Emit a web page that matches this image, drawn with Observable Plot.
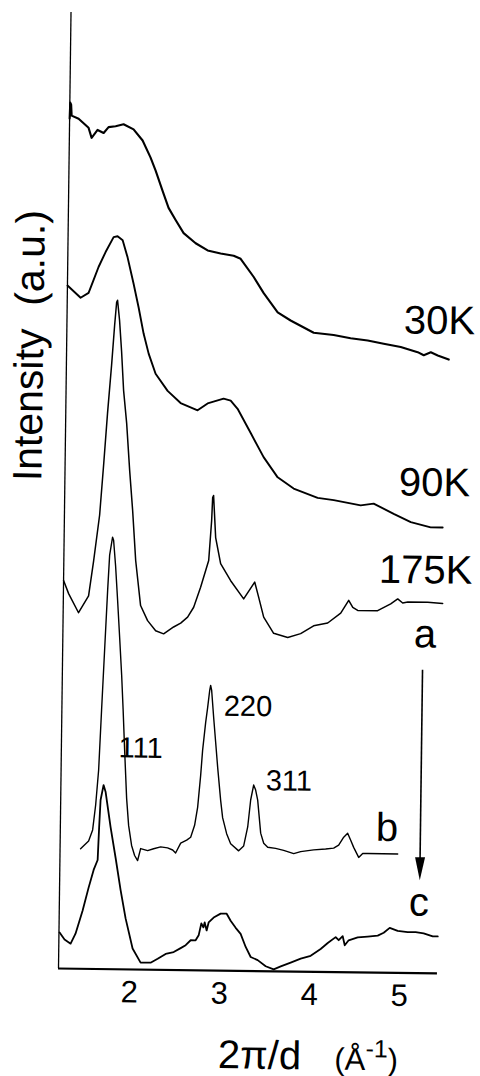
<!DOCTYPE html>
<html>
<head>
<meta charset="utf-8">
<script src="https://cdn.jsdelivr.net/npm/d3@7"></script>
<script src="https://cdn.jsdelivr.net/npm/@observablehq/plot@0.6"></script>
<style>
  html, body { margin: 0; padding: 0; background: #fff; }
  #fig {
    position: relative; width: 480px; height: 1076px; overflow: visible;
    transform: rotate(0.75deg); transform-origin: 58px 968px;
    font-family: "Liberation Sans", Arial, Helvetica, sans-serif; color: #000;
  }
  #fig svg { position: absolute; left: 0; top: 0; }
  #ylab {
    position: absolute; left: -129px; top: 326px; width: 300px; height: 40px;
    line-height: 40px; font-size: 41px; text-align: center; white-space: pre;
    transform: rotate(-90deg);
  }
  #xlab {
    position: absolute; left: 219px; top: 1032px; height: 40px;
    line-height: 40px; font-size: 40px; white-space: pre;
  }
  #xlab .u { font-size: 31px; }
  #xlab sup { font-size: 25px; vertical-align: 13px; line-height: 0; }
</style>
</head>
<body>
<div id="fig"></div>
<script>
// ---- data (x: 2π/d in Å⁻¹, y: intensity in arbitrary units, curves offset) ----
const x30K = [1.210, 1.215, 1.225, 1.232, 1.310, 1.422, 1.457, 1.522, 1.590, 1.644, 1.722, 1.810, 1.922, 2.024, 2.115, 2.173, 2.253, 2.322, 2.402, 2.493, 2.628, 2.762, 2.907, 3.052, 3.130, 3.278, 3.391, 3.549, 3.694, 3.952, 4.174, 4.363, 4.553, 4.731, 4.921, 5.110, 5.178, 5.256, 5.333, 5.456];
const y30K = [85.0, 86.6, 86.4, 85.3, 85.0, 84.1, 83.1, 83.9, 83.6, 84.2, 84.3, 84.5, 84.0, 82.9, 81.2, 79.9, 77.9, 76.2, 75.0, 73.7, 72.7, 72.0, 71.7, 71.5, 71.2, 69.4, 67.8, 65.9, 65.1, 63.9, 63.7, 63.4, 63.2, 62.9, 62.6, 62.1, 61.8, 62.1, 61.8, 61.4];

const x90K = [1.211, 1.358, 1.446, 1.500, 1.553, 1.629, 1.716, 1.760, 1.817, 1.874, 1.944, 2.004, 2.063, 2.122, 2.202, 2.338, 2.484, 2.674, 2.784, 2.961, 3.040, 3.118, 3.267, 3.414, 3.573, 3.752, 4.020, 4.199, 4.499, 4.643, 4.867, 5.058, 5.280, 5.413];
const y90K = [68.3, 67.1, 67.6, 68.9, 70.2, 71.7, 73.2, 73.3, 72.9, 71.2, 68.6, 66.2, 63.6, 61.6, 59.6, 57.9, 56.7, 56.0, 56.7, 57.2, 57.0, 56.2, 53.8, 51.4, 49.4, 48.3, 47.4, 47.2, 46.7, 46.9, 45.9, 45.1, 44.6, 44.6];

const x175K = [1.210, 1.268, 1.381, 1.490, 1.541, 1.601, 1.638, 1.674, 1.712, 1.740, 1.759, 1.769, 1.794, 1.821, 1.849, 1.888, 1.928, 1.967, 2.008, 2.069, 2.149, 2.240, 2.329, 2.439, 2.517, 2.593, 2.659, 2.733, 2.819, 2.846, 2.854, 2.864, 2.893, 2.952, 3.066, 3.213, 3.333, 3.379, 3.438, 3.551, 3.708, 3.851, 3.994, 4.150, 4.293, 4.380, 4.426, 4.481, 4.703, 4.847, 4.924, 4.980, 5.036, 5.258, 5.424];
const y175K = [38.8, 37.5, 35.6, 37.3, 40.8, 45.4, 50.4, 55.6, 60.4, 64.4, 66.7, 66.9, 64.9, 61.8, 57.9, 54.6, 49.9, 45.9, 40.9, 36.4, 34.9, 33.9, 33.6, 34.3, 34.7, 35.3, 36.3, 38.3, 41.0, 45.0, 47.3, 47.5, 43.3, 40.7, 39.0, 37.2, 38.9, 37.4, 35.4, 33.8, 33.4, 33.8, 34.6, 34.9, 35.9, 37.2, 36.5, 36.2, 36.2, 36.9, 37.4, 37.0, 37.1, 37.1, 37.0];

const xB = [1.438, 1.526, 1.569, 1.599, 1.627, 1.651, 1.676, 1.701, 1.718, 1.748, 1.760, 1.786, 1.813, 1.841, 1.869, 1.890, 1.913, 1.942, 1.968, 2.004, 2.039, 2.073, 2.105, 2.183, 2.249, 2.327, 2.404, 2.461, 2.494, 2.549, 2.615, 2.659, 2.701, 2.732, 2.761, 2.779, 2.809, 2.829, 2.849, 2.859, 2.871, 2.897, 2.923, 2.949, 2.987, 3.011, 3.058, 3.104, 3.194, 3.249, 3.291, 3.320, 3.351, 3.374, 3.398, 3.436, 3.471, 3.516, 3.604, 3.694, 3.806, 3.883, 4.027, 4.160, 4.249, 4.304, 4.359, 4.402, 4.437, 4.471, 4.528, 4.572, 4.628, 4.961];
const yB = [12.0, 12.8, 13.9, 16.4, 19.9, 25.9, 31.9, 37.9, 41.4, 43.2, 42.9, 40.3, 36.9, 33.2, 29.4, 26.0, 21.9, 17.1, 14.4, 12.4, 11.4, 10.9, 12.1, 11.9, 12.1, 12.3, 12.2, 12.0, 11.7, 12.7, 13.0, 13.3, 14.5, 16.3, 19.5, 22.0, 24.8, 26.3, 28.0, 28.5, 28.0, 25.3, 22.8, 20.3, 17.0, 15.3, 13.7, 12.7, 12.0, 12.5, 14.4, 17.1, 18.6, 18.1, 17.1, 13.8, 12.8, 12.4, 12.3, 12.1, 11.8, 12.0, 12.2, 12.3, 12.4, 12.7, 13.5, 13.9, 13.2, 12.5, 11.5, 11.9, 11.9, 11.9];

const xC = [1.217, 1.273, 1.341, 1.394, 1.469, 1.532, 1.586, 1.629, 1.641, 1.653, 1.684, 1.708, 1.768, 1.829, 1.889, 1.948, 2.030, 2.121, 2.232, 2.310, 2.398, 2.487, 2.564, 2.619, 2.674, 2.729, 2.762, 2.790, 2.813, 2.827, 2.850, 2.871, 2.926, 3.003, 3.070, 3.115, 3.172, 3.228, 3.286, 3.343, 3.421, 3.511, 3.600, 3.678, 3.788, 3.899, 4.009, 4.119, 4.197, 4.284, 4.318, 4.362, 4.386, 4.429, 4.529, 4.640, 4.751, 4.817, 4.883, 4.972, 5.083, 5.172, 5.261, 5.362, 5.418];
const yC = [3.6, 2.9, 2.5, 3.5, 5.8, 8.1, 9.9, 10.9, 14.2, 16.9, 18.4, 17.7, 14.2, 11.1, 7.9, 5.1, 2.1, 0.7, 0.7, 1.1, 1.6, 1.8, 2.2, 2.5, 3.0, 3.0, 3.5, 4.7, 4.3, 4.8, 4.0, 4.8, 5.3, 5.7, 5.7, 5.0, 4.3, 3.7, 2.4, 1.4, 1.1, 0.5, 0.2, 0.5, 0.9, 1.3, 1.6, 2.3, 2.9, 3.5, 3.2, 3.6, 2.7, 3.2, 3.5, 3.6, 3.7, 4.0, 4.5, 4.2, 4.1, 4.1, 4.0, 3.7, 3.7];

// curve labels (text, anchor position in data units)
const curveLabels = ["30K", "90K", "175K", "a", "b", "c"];
const curveLabelX = [4.952, 4.920, 4.710, 5.109, 4.715, 5.092];
const curveLabelY = [63.95, 47.75, 39.0, 32.6, 13.2, 5.76];

// reflection (hkl) labels
const peakLabels = ["111", "220", "311"];
const peakLabelX = [1.847, 3.008, 3.485];
const peakLabelY = [21.2, 25.5, 18.1];

// arrow a -> c
const arrowX = [5.21];
const arrowTop = [30.3];
const arrowTip = [9.3];

// axes
const xTicks = [2, 3, 4, 5];
const xDomain = [1.21, 5.42];
const yDomain = [0, 95.6];

// ---- build ----
const rows = (xs, ys) => xs.map((x, i) => ({x, y: ys[i]}));
const curve = (xs, ys, w) => Plot.line(rows(xs, ys), {
  x: "x", y: "y", stroke: "black", strokeWidth: w,
  strokeLinejoin: "round", strokeLinecap: "round"
});

const arrowHead = {
  draw(context) {
    context.moveTo(0, 0);
    context.lineTo(-5, -23);
    context.lineTo(5, -23);
    context.closePath();
  }
};

const chart = Plot.plot({
  width: 480,
  height: 1076,
  marginLeft: 58,
  marginRight: 43,
  marginTop: 12,
  marginBottom: 108,
  x: {domain: xDomain, axis: null},
  y: {domain: yDomain, axis: null},
  style: {
    background: "white",
    fontFamily: "'Liberation Sans', Arial, Helvetica, sans-serif",
    fontSize: "30px",
    color: "black",
    overflow: "visible"
  },
  marks: [
    Plot.ruleX([xDomain[0]], {stroke: "black", strokeWidth: 1.3}),
    Plot.ruleY([0], {stroke: "black", strokeWidth: 2.2}),
    Plot.text(xTicks, {
      x: (d) => d, frameAnchor: "bottom", lineAnchor: "top", dy: 11,
      text: (d) => String(d), fontSize: 31, fill: "black"
    }),
    curve(x30K, y30K, 2.1),
    curve(x90K, y90K, 1.9),
    curve(x175K, y175K, 1.5),
    curve(xB, yB, 1.4),
    curve(xC, yC, 1.8),
    Plot.text(curveLabels, {
      x: (d, i) => curveLabelX[i], y: (d, i) => curveLabelY[i], text: (d) => d,
      textAnchor: "start", lineAnchor: "bottom", fontSize: 40, fill: "black"
    }),
    Plot.text(peakLabels, {
      x: (d, i) => peakLabelX[i], y: (d, i) => peakLabelY[i], text: (d) => d,
      textAnchor: "start", lineAnchor: "bottom", fontSize: 29, fill: "black"
    }),
    Plot.ruleX(arrowX, {
      x: (d) => d, y1: (d, i) => arrowTop[i], y2: (d, i) => arrowTip[i] + 1.5,
      stroke: "black", strokeWidth: 1.6
    }),
    Plot.dot(arrowX, {
      x: (d) => d, y: (d, i) => arrowTip[i], symbol: arrowHead,
      fill: "black", stroke: "none"
    })
  ]
});

const fig = document.getElementById("fig");
fig.appendChild(chart);

const ylab = document.createElement("div");
ylab.id = "ylab";
ylab.textContent = "Intensity  (a.u.)";
fig.appendChild(ylab);

const xlab = document.createElement("div");
xlab.id = "xlab";
xlab.innerHTML = "2\u03C0/d   <span class=\"u\">(\u00C5<sup>-1</sup>)</span>";
fig.appendChild(xlab);
</script>
</body>
</html>
